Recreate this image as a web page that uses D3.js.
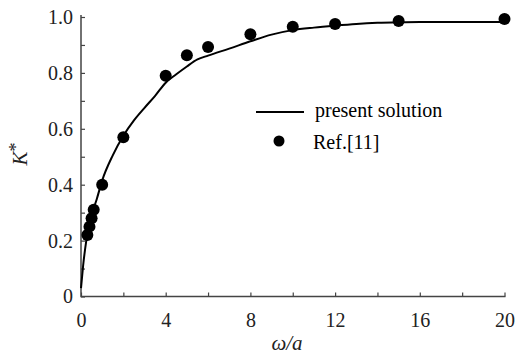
<!DOCTYPE html>
<html>
<head>
<meta charset="utf-8">
<script src="https://cdn.jsdelivr.net/npm/d3@7"></script>
<style>
  body { margin: 0; background: #fff; }
  svg { display: block; }
</style>
</head>
<body>
<div id="chart"></div>
<script>
// present solution curve
const curveX = [0, 0.1, 0.25, 0.5, 0.75, 1, 1.5, 2, 2.5, 3, 3.5, 4, 4.5, 5, 5.5, 6, 7, 8, 9, 10, 11, 12, 13, 14, 15, 16, 18, 20];
const curveY = [0.03, 0.11, 0.2, 0.29, 0.35, 0.415, 0.505, 0.575, 0.63, 0.675, 0.718, 0.765, 0.795, 0.823, 0.848, 0.862, 0.887, 0.913, 0.937, 0.953, 0.962, 0.969, 0.975, 0.979, 0.981, 0.982, 0.982, 0.982];

// Ref.[11] points
const refX = [0.3, 0.4, 0.5, 0.6, 1, 2, 4, 5, 6, 8, 10, 12, 15, 20];
const refY = [0.22, 0.25, 0.28, 0.31, 0.40, 0.57, 0.79, 0.863, 0.893, 0.938, 0.965, 0.975, 0.986, 0.993];

const xTicks = [0, 4, 8, 12, 16, 20];
const xMinorTicks = [0, 2, 4, 6, 8, 10, 12, 14, 16, 18, 20];
const yTicks = [0, 0.2, 0.4, 0.6, 0.8, 1.0];
const yMinorTicks = [0, 0.1, 0.2, 0.3, 0.4, 0.5, 0.6, 0.7, 0.8, 0.9, 1.0];

const width = 516, height = 356;
const margin = { top: 17, right: 11.5, bottom: 59.5, left: 81 };
const innerWidth = width - margin.left - margin.right;
const innerHeight = height - margin.top - margin.bottom;
const serif = 'Liberation Serif';

const svg = d3.select('#chart').append('svg')
  .attr('width', width)
  .attr('height', height);

const g = svg.append('g')
  .attr('transform', `translate(${margin.left},${margin.top})`);

const xScale = d3.scaleLinear().domain([0, 20]).range([0, innerWidth]);
const yScale = d3.scaleLinear().domain([0, 1]).range([innerHeight, 0]);

// minor ticks (inward)
const xMinor = g.append('g')
  .attr('transform', `translate(0,${innerHeight})`)
  .call(d3.axisTop(xScale).tickValues(xMinorTicks).tickSize(4).tickFormat(''));
xMinor.select('.domain').remove();
xMinor.selectAll('line').attr('stroke', '#444').attr('stroke-width', 1.2);

const yMinor = g.append('g')
  .call(d3.axisRight(yScale).tickValues(yMinorTicks).tickSize(4).tickFormat(''));
yMinor.select('.domain').remove();
yMinor.selectAll('line').attr('stroke', '#444').attr('stroke-width', 1.2);

// labels
const xAxisG = g.append('g')
  .attr('transform', `translate(0,${innerHeight})`)
  .call(d3.axisBottom(xScale).tickValues(xTicks).tickSize(0).tickPadding(16).tickFormat(d3.format('d')));
xAxisG.select('.domain').remove();

const yAxisG = g.append('g')
  .call(d3.axisLeft(yScale).tickValues(yTicks).tickSize(0).tickPadding(8)
    .tickFormat(d => d === 0 ? '0' : d3.format('.1f')(d)));
yAxisG.select('.domain').remove();

[xAxisG, yAxisG].forEach(a => {
  a.selectAll('text')
    .attr('font-family', serif)
    .attr('font-size', 20)
    .attr('fill', '#222');
});

// axis lines
g.append('path')
  .attr('d', `M0,-2V${innerHeight}H${innerWidth + 1}`)
  .attr('fill', 'none')
  .attr('stroke', '#444')
  .attr('stroke-width', 1.5);

// curve
const line = d3.line()
  .x(i => xScale(curveX[i]))
  .y(i => yScale(curveY[i]))
  .curve(d3.curveMonotoneX);

g.append('path')
  .attr('d', line(d3.range(curveX.length)))
  .attr('fill', 'none')
  .attr('stroke', '#000')
  .attr('stroke-width', 2);

// points
g.selectAll('circle.ref').data(d3.range(refX.length))
  .enter().append('circle')
  .attr('class', 'ref')
  .attr('cx', i => xScale(refX[i]))
  .attr('cy', i => yScale(refY[i]))
  .attr('r', 6)
  .attr('fill', '#000');

// axis titles
svg.append('text')
  .attr('transform', 'translate(27,154) rotate(-90)')
  .attr('text-anchor', 'middle')
  .attr('font-family', serif)
  .attr('font-style', 'italic')
  .attr('font-size', 21)
  .attr('fill', '#222')
  .html('K<tspan dy="-5" font-size="18" font-style="normal">*</tspan>');

svg.append('text')
  .attr('x', 287)
  .attr('y', 350)
  .attr('text-anchor', 'middle')
  .attr('font-family', serif)
  .attr('font-style', 'italic')
  .attr('font-size', 21)
  .attr('fill', '#222')
  .text('ω/a');

// legend
const legend = svg.append('g');
legend.append('line')
  .attr('x1', 256).attr('x2', 304).attr('y1', 112).attr('y2', 112)
  .attr('stroke', '#000').attr('stroke-width', 2);
legend.append('text').attr('x', 315).attr('y', 117)
  .attr('font-family', serif).attr('font-size', 20).text('present solution');
legend.append('circle').attr('cx', 279).attr('cy', 141).attr('r', 5.5).attr('fill', '#000');
legend.append('text').attr('x', 313).attr('y', 149)
  .attr('font-family', serif).attr('font-size', 20).text('Ref.[11]');
</script>
</body>
</html>
